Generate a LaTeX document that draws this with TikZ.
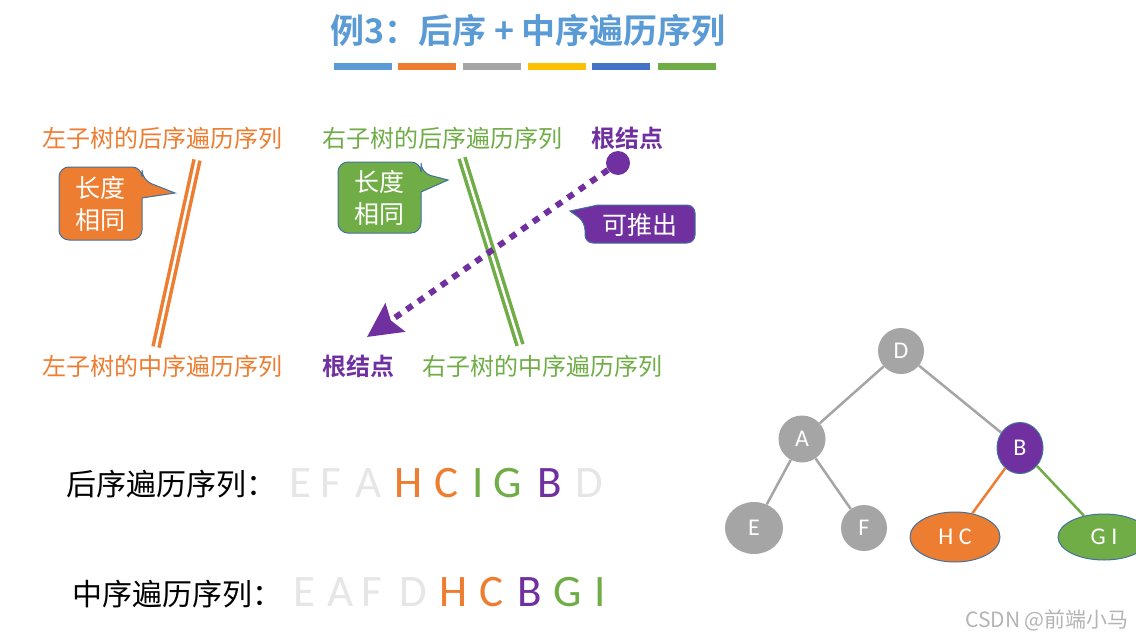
\documentclass[tikz,border=0pt]{standalone}
\usepackage{fontspec}
\setmainfont{Carlito}
\newfontfamily\cjk{Noto Sans CJK SC}[BoldFont={Noto Sans CJK SC Bold}]
\usetikzlibrary{arrows.meta,shapes.geometric}
\newcommand\fsz[1]{\fontsize{#1}{#1}\selectfont}
\definecolor{ctitle}{HTML}{5B9BD5}
\definecolor{corange}{HTML}{ED7D31}
\definecolor{cgreen}{HTML}{70AD47}
\definecolor{cpurple}{HTML}{7030A0}
\definecolor{cgray}{HTML}{A5A5A5}
\definecolor{cyellow}{HTML}{FFC000}
\definecolor{cblue}{HTML}{4472C4}
\definecolor{cborder}{HTML}{41719C}
\definecolor{clight}{HTML}{E6E6E6}
\definecolor{cwm}{HTML}{B4B4B4}
\begin{document}
\begin{tikzpicture}[x=1pt,y=-1pt,
  lbl/.style={inner sep=0pt, anchor=west, font=\cjk\fsz{24}},
  seqlbl/.style={inner sep=0pt, anchor=west, font=\cjk\fsz{30}, text=black},
  seq/.style={inner sep=0pt, anchor=base, font=\fsz{45}},
  tnode/.style={ellipse, inner sep=0pt, text=white, font=\fsz{24}},
  tedge/.style={draw=cgray, line width=2.5pt},
  callbox/.style={draw=cborder, line width=1pt},
  calltext/.style={inner sep=0pt, align=center, text=white, font=\cjk\fsz{25}},
  dbl/.style={line width=3.5pt, double=white, double distance=2.5pt}
]
\useasboundingbox (0,0) rectangle (1136,640);
\fill[white] (0,0) rectangle (1136,640);

% title
\node[inner sep=0pt, text=ctitle, font=\cjk\bfseries\fsz{34}] (title) at (528,31) {例3：后序 + 中序遍历序列};
\fill[ctitle] (334,63) rectangle (392,70);
\fill[corange] (398,63) rectangle (456,70);
\fill[cgray] (463,63) rectangle (521,70);
\fill[cyellow] (528,63) rectangle (586,70);
\fill[cblue] (592,63) rectangle (650,70);
\fill[cgreen] (658,63) rectangle (716,70);

% labels
\node[lbl, text=corange] (lpost) at (42,138) {左子树的后序遍历序列};
\node[lbl, text=cgreen] (rpost) at (322,138) {右子树的后序遍历序列};
\node[lbl, text=cpurple, font=\cjk\bfseries\fsz{24}] (rootpost) at (591,138) {根结点};
\node[lbl, text=corange] (lin) at (42,366) {左子树的中序遍历序列};
\node[lbl, text=cpurple, font=\cjk\bfseries\fsz{24}] (rootin) at (322,366) {根结点};
\node[lbl, text=cgreen] (rin) at (422,366) {右子树的中序遍历序列};

% double lines
\coordinate (o1) at (197,160);
\coordinate (o2) at (156,347);
\draw[dbl, draw=corange] (o1) -- (o2);
\coordinate (g1) at (462,158);
\coordinate (g2) at (520,345);
\draw[dbl, draw=cgreen] (g1) -- (g2);

% callouts
\draw[callbox, fill=corange, rounded corners=10pt] (100,167) -- (142,167) -- (142,180) [sharp corners] -- (175,193) -- (142,198) [rounded corners=10pt] -- (142,240) -- (59,240) -- (59,167) -- cycle;
\node[calltext] (c1) at (100.5,204) {长度\\[7pt]相同};
\draw[callbox, fill=cgreen, rounded corners=10pt] (380,162) -- (421,162) -- (421,173) [sharp corners] -- (448,180) -- (421,192) [rounded corners=10pt] -- (421,233) -- (338,233) -- (338,162) -- cycle;
\node[calltext] (c2) at (379.5,198) {长度\\[7pt]相同};
\draw[callbox, fill=cpurple, rounded corners=8pt] (640,205) -- (695,205) -- (695,243) -- (585,243) -- (585,222) [sharp corners] -- (570,211) -- (598,205) [rounded corners=8pt] -- cycle;
\node[calltext] (c3) at (640,225) {可推出};

% root dot and dotted arrow
\node[circle, fill=cpurple, inner sep=0pt, minimum size=24pt] (dot) at (618,163) {};
\coordinate (tip) at (367,337);
\draw[cpurple, line width=6pt, dash pattern=on 7pt off 7pt, -{Stealth[length=34pt,width=34pt,inset=5pt]}] (dot) -- (tip);

% sequences
\node[seqlbl] (postlbl) at (66,484) {后序遍历序列：};
\node[seq, text=clight] (p1) at (300,497) {E};
\node[seq, text=clight] (p2) at (331,497) {F};
\node[seq, text=clight] (p3) at (369,497) {A};
\node[seq, text=corange] (p4) at (409,497) {H};
\node[seq, text=corange] (p5) at (446,497) {C};
\node[seq, text=cgreen] (p6) at (478,497) {I};
\node[seq, text=cgreen] (p7) at (508,497) {G};
\node[seq, text=cpurple] (p8) at (550,497) {B};
\node[seq, text=clight] (p9) at (589,497) {D};

\node[seqlbl] (inlbl) at (72,594) {中序遍历序列：};
\node[seq, text=clight] (i1) at (304,606) {E};
\node[seq, text=clight] (i2) at (341,606) {A};
\node[seq, text=clight] (i3) at (372,606) {F};
\node[seq, text=clight] (i4) at (413,606) {D};
\node[seq, text=corange] (i5) at (454,606) {H};
\node[seq, text=corange] (i6) at (491,606) {C};
\node[seq, text=cpurple] (i7) at (530,606) {B};
\node[seq, text=cgreen] (i8) at (568,606) {G};
\node[seq, text=cgreen] (i9) at (600,606) {I};

% tree
\node[tnode, fill=cgray, minimum width=46pt, minimum height=46pt] (D) at (901,351) {D};
\node[tnode, fill=cgray, minimum width=47pt, minimum height=47pt] (A) at (802,439) {A};
\node[tnode, fill=cpurple, draw=cborder, line width=1pt, minimum width=46pt, minimum height=51pt] (B) at (1020,448) {B};
\node[tnode, fill=cgray, minimum width=58pt, minimum height=52pt] (E) at (754,528) {E};
\node[tnode, fill=cgray, minimum width=46pt, minimum height=46pt] (F) at (864,528) {F};
\node[tnode, fill=corange, draw=cborder, line width=1pt, minimum width=90pt, minimum height=50pt] (HC) at (955,537) {H C};
\node[tnode, fill=cgreen, draw=cborder, line width=1pt, minimum width=92pt, minimum height=46pt] (GI) at (1104,537) {G I};
\draw[tedge] (D) -- (A);
\draw[tedge] (D) -- (B);
\draw[tedge] (A) -- (E);
\draw[tedge] (A) -- (F);
\draw[tedge, draw=corange] (B) -- (HC);
\draw[tedge, draw=cgreen] (B) -- (GI);

% watermark
\node[inner sep=0pt, text=cwm, font=\cjk\fsz{21}] (wm) at (1047,620) {CSDN @前端小马};
\end{tikzpicture}
\end{document}
